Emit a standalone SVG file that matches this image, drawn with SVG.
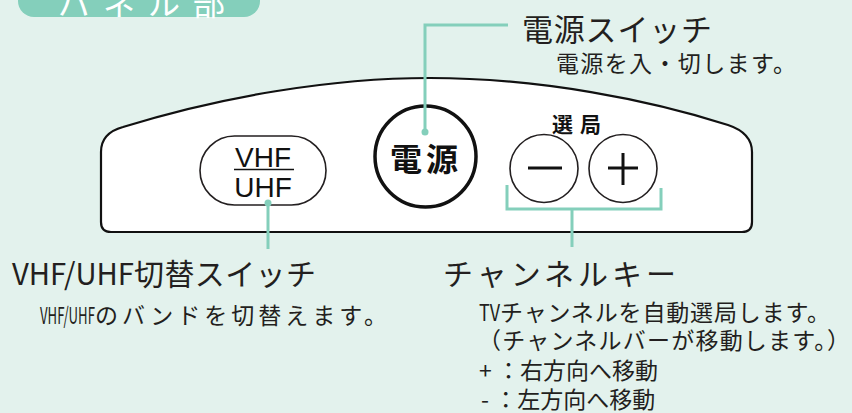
<svg xmlns="http://www.w3.org/2000/svg" width="852" height="413" viewBox="0 0 852 413">
<style>
.jp{font-family:"Noto Sans CJK JP","Noto Sans",sans-serif;fill:#231f20}
.big{font-size:30px}
.sm{font-size:23px}
.lead{stroke:#84cfbb;stroke-width:3;fill:none}
.dot{fill:#84cfbb}
.lat{font-family:"Liberation Sans",Arial,sans-serif;fill:#111;font-size:28px}
</style>
<rect x="0" y="0" width="852" height="413" fill="#e3f2ed"/>
<g id="badge">
<rect x="18" y="-20" width="242" height="37" rx="16" fill="#84cfbb"/>
<text class="jp" x="58" y="14.5" style="fill:#fff;font-size:32px;letter-spacing:13px">パネル部</text>
</g>
<g id="panel">
<path d="M101,152 Q101,133 123,127 C220,97 330,78 430,78 C540,78 650,100 728,125 Q752,133 752,152 L752,222 Q752,232 742,232 L111,232 Q101,232 101,222 Z" fill="#fff" stroke="#111" stroke-width="2.2"/>
</g>
<g id="vhf-uhf-button">
<rect x="200" y="136" width="126" height="69" rx="34.5" fill="#fff" stroke="#231f20" stroke-width="1.6"/>
<text class="lat" x="263" y="167" text-anchor="middle">VHF</text>
<line x1="234" y1="169.5" x2="294" y2="169.5" stroke="#111" stroke-width="1.6"/>
<text class="lat" x="263" y="197" text-anchor="middle">UHF</text>
</g>
<g id="power-button">
<circle cx="425.5" cy="156.5" r="50.5" fill="#fff" stroke="#111" stroke-width="3.5"/>
<text class="jp" x="426" y="171" text-anchor="middle" style="font-size:32px;font-weight:bold;fill:#111;letter-spacing:4px">電源</text>
</g>
<g id="channel-keys">
<text class="jp" x="580" y="132" text-anchor="middle" style="font-size:21px;font-weight:bold;fill:#111;letter-spacing:7px">選局</text>
<circle cx="544" cy="168.5" r="34" fill="#fff" stroke="#231f20" stroke-width="1.6"/>
<line x1="528" y1="168" x2="562" y2="168" stroke="#111" stroke-width="3"/>
<circle cx="623" cy="168.5" r="34" fill="#fff" stroke="#231f20" stroke-width="1.6"/>
<line x1="608" y1="168" x2="638" y2="168" stroke="#111" stroke-width="3"/>
<line x1="623" y1="153" x2="623" y2="185" stroke="#111" stroke-width="3"/>
</g>
<g id="connectors">
<polyline class="lead" points="425,132 425,25 508,25"/>
<circle class="dot" cx="425" cy="132" r="3.5"/>
<line class="lead" x1="268" y1="203" x2="268" y2="249"/>
<circle class="dot" cx="268" cy="203" r="3.5"/>
<polyline class="lead" points="507,185 507,209 661,209 661,188"/>
<line class="lead" x1="572" y1="209" x2="572" y2="247"/>
</g>
<g id="label-power">
<text class="jp" x="522" y="41" style="font-size:31px" textLength="190">電源スイッチ</text>
<text class="jp sm" x="556" y="72" textLength="240">電源を入・切します。</text>
</g>
<g id="label-vhf">
<text class="jp big" x="12" y="285"><tspan textLength="122" lengthAdjust="spacingAndGlyphs">VHF/UHF</tspan><tspan textLength="182">切替スイッチ</tspan></text>
<text class="jp sm" x="40" y="324"><tspan textLength="55" lengthAdjust="spacingAndGlyphs">VHF/UHF</tspan><tspan textLength="292">のバンドを切替えます。</tspan></text>
</g>
<g id="label-channel">
<text class="jp big" x="443" y="285" textLength="233">チャンネルキー</text>
<text class="jp sm" x="479" y="321"><tspan textLength="21" lengthAdjust="spacingAndGlyphs">TV</tspan><tspan textLength="330">チャンネルを自動選局します。</tspan></text>
<text class="jp sm" x="478" y="349" textLength="372">（チャンネルバーが移動します。）</text>
<text class="jp sm" x="479" y="379">+ ：右方向へ移動</text>
<text class="jp sm" x="481" y="408">- ：左方向へ移動</text>
</g>
</svg>
